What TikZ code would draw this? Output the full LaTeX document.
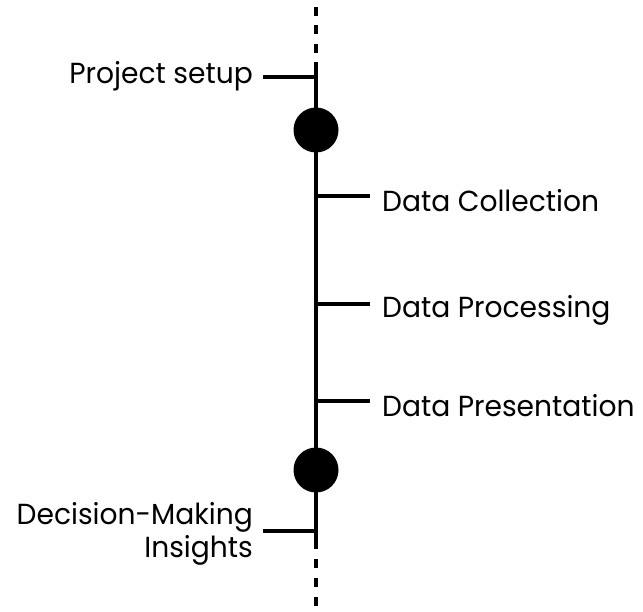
\documentclass[tikz,border=0pt]{standalone}
\usepackage{fontspec}
\setmainfont[FakeStretch=0.97]{Poppins}
\begin{document}
\begin{tikzpicture}[x=1pt,y=-1pt,
  spine/.style={line width=3.1pt,black},
  topdash/.style={line width=3.1pt,black,dash pattern=on 9pt off 9.5pt},
  botdash/.style={line width=3.1pt,black,dash pattern=on 9pt off 10pt},
  tick/.style={line width=3.1pt,black},
  milestone/.style={circle,fill=black,minimum size=45pt,inner sep=0pt},
  lbl/.style={inner sep=0pt,font=\fontsize{29}{33}\selectfont}]
\useasboundingbox (0,0) rectangle (643,612);
% spine coordinates
\coordinate (top) at (316,7);
\coordinate (s0a) at (316,53);
\coordinate (s0) at (316,62);
\coordinate (p0) at (316,77);
\coordinate (p1) at (316,196);
\coordinate (p2) at (316,304);
\coordinate (p3) at (316,401);
\coordinate (p4) at (316,531);
\coordinate (s1) at (316,549);
\coordinate (s2) at (316,559);
\coordinate (bot) at (316,607);
% milestones
\node[milestone] (m1) at (316,130) {};
\node[milestone] (m2) at (316,470) {};
% spine
\draw[topdash] (top) -- (s0a);
\draw[spine] (s0) -- (s1);
\draw[botdash] (s2) -- (bot);
% labels
\node[lbl,anchor=base east] (t0) at (253,84) {Project setup};
\node[lbl,anchor=base west] (t1) at (382,212) {Data Collection};
\node[lbl,anchor=base west] (t2) at (382,318) {Data Processing};
\node[lbl,anchor=base west] (t3) at (382,417) {Data Presentation};
\node[lbl,anchor=base east] (t4) at (253,524) {Decision-Making};
\node[lbl,anchor=base east] (t5) at (253,557) {Insights};
% tick ends
\coordinate (e0) at (263,77);
\coordinate (e1) at (370,196);
\coordinate (e2) at (370,304);
\coordinate (e3) at (370,401);
\coordinate (e4) at (263,531);
\draw[tick] (e0) -- (p0);
\draw[tick] (p1) -- (e1);
\draw[tick] (p2) -- (e2);
\draw[tick] (p3) -- (e3);
\draw[tick] (e4) -- (p4);
\end{tikzpicture}
\end{document}
